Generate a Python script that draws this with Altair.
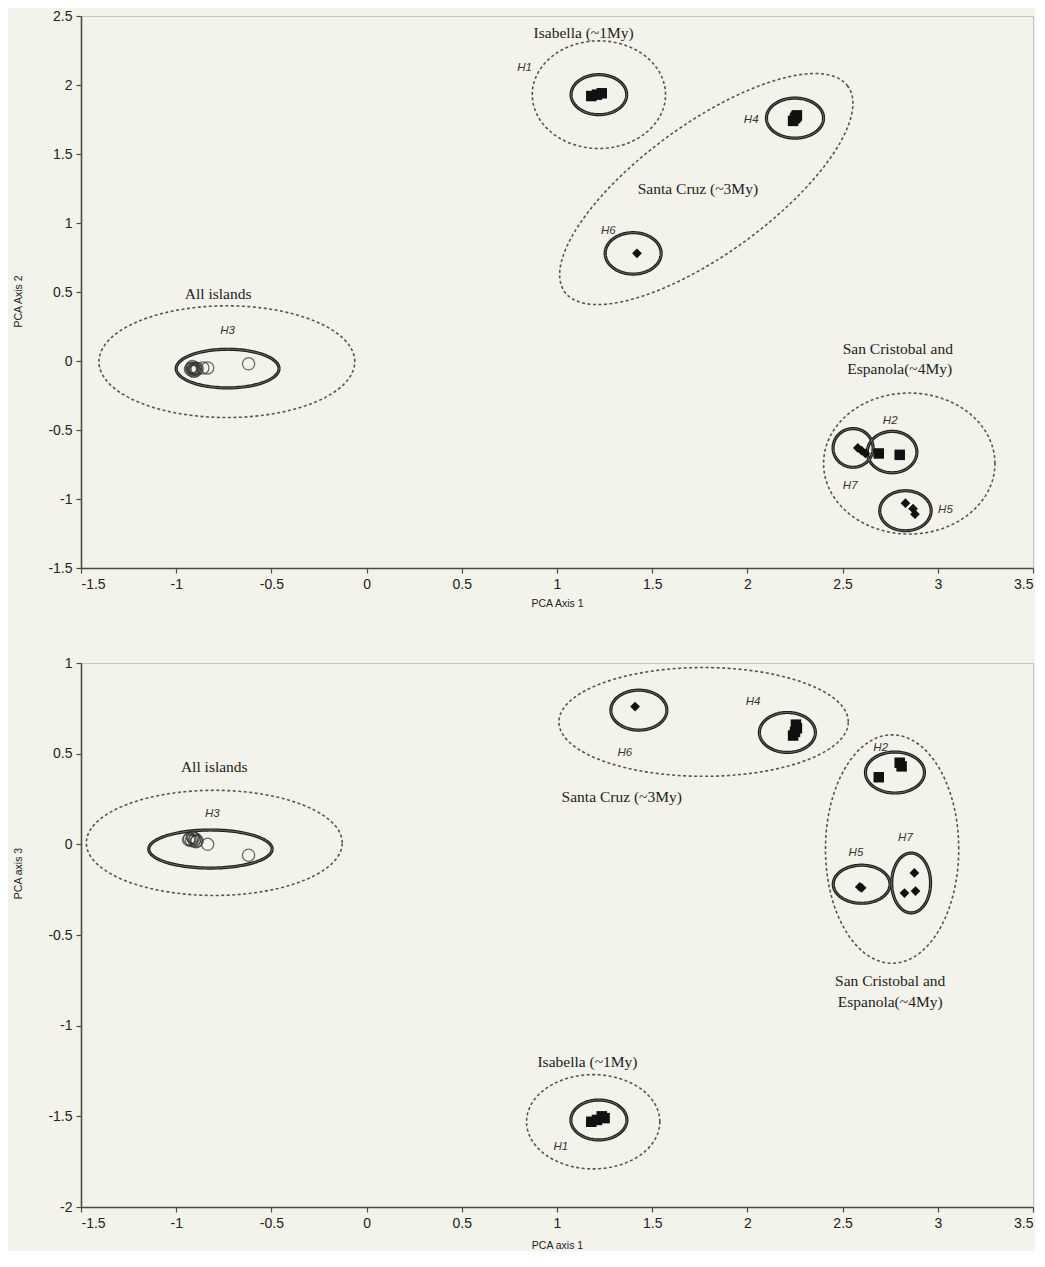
import altair as alt
import pandas as pd
import numpy as np

# ---------------- layout ----------------
W = 952
H_TOP = 552
H_BOT = 544
X_DOMAIN = [-1.5, 3.5]
Y_TOP_DOMAIN = [-1.5, 2.5]
Y_BOT_DOMAIN = [-2.0, 1.0]
X_TICKS = [-1.5, -1, -0.5, 0, 0.5, 1, 1.5, 2, 2.5, 3, 3.5]
Y_TOP_TICKS = [-1.5, -1, -0.5, 0, 0.5, 1, 1.5, 2, 2.5]
Y_BOT_TICKS = [-2, -1.5, -1, -0.5, 0, 0.5, 1]

# ---------------- top panel data (PCA1 vs PCA2) ----------------
top_sq_x = [1.18, 1.21, 1.235, 2.24, 2.25, 2.26, 2.255, 2.69, 2.80]
top_sq_y = [1.92, 1.93, 1.94, 1.74, 1.76, 1.78, 1.77, -0.67, -0.68]
top_dm_x = [1.42, 2.58, 2.60, 2.62, 2.83, 2.87, 2.88]
top_dm_y = [0.78, -0.63, -0.65, -0.67, -1.03, -1.07, -1.11]
top_ci_x = [-0.925, -0.92, -0.915, -0.91, -0.905, -0.90, -0.895, -0.89, -0.915, -0.905,
            -0.86, -0.835, -0.62]
top_ci_y = [-0.06, -0.05, -0.07, -0.055, -0.06, -0.05, -0.065, -0.055, -0.04, -0.075,
            -0.05, -0.05, -0.02]

# solid ellipses: cx, cy, rx, ry (data units)
top_solid = [
    (1.22, 1.93, 0.146, 0.145),    # H1
    (2.25, 1.76, 0.15, 0.145),     # H4
    (1.40, 0.78, 0.147, 0.15),     # H6
    (-0.73, -0.055, 0.27, 0.14),   # H3
    (2.76, -0.66, 0.13, 0.15),     # H2
    (2.555, -0.63, 0.105, 0.14),   # H7
    (2.83, -1.085, 0.135, 0.145),  # H5
]
top_dotted = [
    (1.22, 1.93, 0.35, 0.39),       # Isabella
    (-0.734, -0.005, 0.672, 0.405), # All islands
    (2.85, -0.743, 0.45, 0.511),    # San Cristobal / Espanola
]
# rotated dotted ellipse (Santa Cruz): cx, cy, semi-major px, semi-minor px, angle deg
top_rotated = [(1.784, 1.246, 175, 65, 36)]

top_text = ["Isabella (~1My)", "Santa Cruz (~3My)", "All islands",
            "San Cristobal and", "Espanola(~4My)"]
top_text_x = [1.14, 1.74, -0.78, 2.79, 2.80]
top_text_y = [2.38, 1.25, 0.485, 0.087, -0.06]
top_h = ["H1", "H4", "H6", "H3", "H2", "H7", "H5"]
top_h_x = [0.83, 2.02, 1.27, -0.73, 2.75, 2.54, 3.04]
top_h_y = [2.12, 1.75, 0.94, 0.22, -0.435, -0.906, -1.08]

# ---------------- bottom panel data (PCA1 vs PCA3) ----------------
bot_sq_x = [1.18, 1.21, 1.235, 1.25, 2.24, 2.25, 2.26, 2.255, 2.69, 2.80, 2.81]
bot_sq_y = [-1.53, -1.52, -1.50, -1.51, 0.60, 0.62, 0.64, 0.66, 0.37, 0.45, 0.43]
bot_dm_x = [1.41, 2.59, 2.60, 2.877, 2.825, 2.883]
bot_dm_y = [0.76, -0.235, -0.24, -0.158, -0.269, -0.258]
bot_ci_x = [-0.935, -0.93, -0.92, -0.915, -0.91, -0.905, -0.90, -0.895, -0.89, -0.835, -0.62]
bot_ci_y = [0.025, 0.03, 0.02, 0.04, 0.035, 0.02, 0.03, 0.015, 0.02, 0.0, -0.06]

bot_solid = [
    (-0.82, -0.026, 0.324, 0.105),  # H3
    (1.43, 0.74, 0.147, 0.11),      # H6
    (2.21, 0.617, 0.147, 0.11),     # H4
    (2.775, 0.396, 0.155, 0.113),   # H2
    (2.60, -0.22, 0.149, 0.105),    # H5
    (2.86, -0.213, 0.102, 0.165),   # H7
    (1.22, -1.52, 0.147, 0.11),     # H1
]
bot_dotted = [
    (-0.80, 0.008, 0.672, 0.29),   # All islands
    (1.77, 0.675, 0.76, 0.30),     # Santa Cruz
    (2.76, -0.026, 0.35, 0.63),    # San Cristobal / Espanola
    (1.19, -1.53, 0.35, 0.26),     # Isabella
]
bot_text = ["All islands", "Santa Cruz (~3My)", "San Cristobal and",
            "Espanola(~4My)", "Isabella (~1My)"]
bot_text_x = [-0.80, 1.34, 2.75, 2.75, 1.16]
bot_text_y = [0.426, 0.26, -0.754, -0.87, -1.20]
bot_h = ["H3", "H6", "H4", "H2", "H5", "H7", "H1"]
bot_h_x = [-0.81, 1.356, 2.03, 2.70, 2.57, 2.83, 1.02]
bot_h_y = [0.17, 0.504, 0.785, 0.53, -0.048, 0.035, -1.67]


def ellipse_df(specs, tag):
    t = np.linspace(0, 2 * np.pi, 145)
    rows = []
    for i, (cx, cy, rx, ry) in enumerate(specs):
        for k, tt in enumerate(t):
            rows.append({"id": f"{tag}{i}", "k": k,
                         "x": cx + rx * np.cos(tt), "y": cy + ry * np.sin(tt)})
    return pd.DataFrame(rows)


def rotated_df(specs, tag, sx, sy):
    t = np.linspace(0, 2 * np.pi, 181)
    rows = []
    for i, (cx, cy, a, b, ang) in enumerate(specs):
        th = np.deg2rad(ang)
        for k, tt in enumerate(t):
            dx = a * np.cos(th) * np.cos(tt) - b * np.sin(th) * np.sin(tt)
            dy = a * np.sin(th) * np.cos(tt) + b * np.cos(th) * np.sin(tt)
            rows.append({"id": f"{tag}{i}", "k": k,
                         "x": cx + dx / sx, "y": cy + dy / sy})
    return pd.DataFrame(rows)


def panel(h, ydom, yticks, xtitle, ytitle, ytitle_y, sq, dm, ci,
          solid, dotted, rotated, texts, hs, xtitle_pad):
    xenc = alt.X("x:Q", scale=alt.Scale(domain=X_DOMAIN, nice=False, zero=False),
                 axis=alt.Axis(values=X_TICKS, title=xtitle, labelExpr="datum.value + ''",
                               titlePadding=xtitle_pad))
    yenc = alt.Y("y:Q", scale=alt.Scale(domain=ydom, nice=False, zero=False),
                 axis=alt.Axis(values=yticks, title=ytitle, labelExpr="datum.value + ''",
                               titleX=-58, titleY=ytitle_y, titleAngle=270,
                               titleBaseline="bottom", titleAlign="center"))
    layers = []
    sdf = ellipse_df(solid, "s")
    layers.append(alt.Chart(sdf).mark_line(color="#1e1e1e", strokeWidth=3.2).encode(
        x=xenc, y=yenc, order="k:Q", detail="id:N"))
    layers.append(alt.Chart(sdf).mark_line(color="#8c8c86", strokeWidth=0.7).encode(
        x=xenc, y=yenc, order="k:Q", detail="id:N"))
    ddf = ellipse_df(dotted, "d")
    if rotated:
        ddf = pd.concat([ddf, rotated_df(rotated, "r", W / 5, h / (ydom[1] - ydom[0]))])
    layers.append(alt.Chart(ddf).mark_line(color="#555555", strokeWidth=1.6,
                                           strokeDash=[3, 2.5]).encode(
        x=xenc, y=yenc, order="k:Q", detail="id:N"))
    cdf = pd.DataFrame({"x": ci[0], "y": ci[1]})
    layers.append(alt.Chart(cdf).mark_point(shape="circle", filled=False, size=150,
                                            color="#333333", strokeWidth=1.3).encode(x=xenc, y=yenc))
    qdf = pd.DataFrame({"x": sq[0], "y": sq[1]})
    layers.append(alt.Chart(qdf).mark_point(shape="square", filled=True, size=110,
                                            color="#111111", opacity=1).encode(x=xenc, y=yenc))
    mdf = pd.DataFrame({"x": dm[0], "y": dm[1]})
    layers.append(alt.Chart(mdf).mark_point(shape="diamond", filled=True, size=95,
                                            color="#111111", opacity=1).encode(x=xenc, y=yenc))
    tdf = pd.DataFrame({"x": texts[1], "y": texts[2], "t": texts[0]})
    layers.append(alt.Chart(tdf).mark_text(font="Liberation Serif", fontSize=15.5,
                                           color="#222222").encode(x=xenc, y=yenc, text="t:N"))
    hdf = pd.DataFrame({"x": hs[1], "y": hs[2], "t": hs[0]})
    layers.append(alt.Chart(hdf).mark_text(font="Liberation Sans", fontSize=11.5,
                                           fontStyle="italic", color="#333333").encode(
        x=xenc, y=yenc, text="t:N"))
    return alt.layer(*layers).properties(width=W, height=h)


top = panel(H_TOP, Y_TOP_DOMAIN, Y_TOP_TICKS, "PCA Axis 1", "PCA Axis 2", H_TOP / 2 + 9,
            (top_sq_x, top_sq_y), (top_dm_x, top_dm_y), (top_ci_x, top_ci_y),
            top_solid, top_dotted, top_rotated,
            (top_text, top_text_x, top_text_y), (top_h, top_h_x, top_h_y), 7)
bottom = panel(H_BOT, Y_BOT_DOMAIN, Y_BOT_TICKS, "PCA axis 1", "PCA axis 3", 210,
               (bot_sq_x, bot_sq_y), (bot_dm_x, bot_dm_y), (bot_ci_x, bot_ci_y),
               bot_solid, bot_dotted, [],
               (bot_text, bot_text_x, bot_text_y), (bot_h, bot_h_x, bot_h_y), 10)

chart = alt.vconcat(top, bottom, spacing=46).properties(
    padding={"left": 4, "top": 0, "right": 0, "bottom": 0},
    background="#f3f3eb",
).configure_view(
    stroke="#c4c4bc", strokeWidth=1
).configure_axis(
    grid=False, domainColor="#4a4a4a", domainWidth=1.6, tickColor="#4a4a4a",
    tickSize=5, tickWidth=1.2, labelFont="Liberation Sans", labelFontSize=14,
    labelColor="#222222", labelPadding=4, titleFont="Liberation Sans",
    titleFontSize=10.5, titleFontWeight="normal", titleColor="#222222"
)

chart.save("out.html", embed_options={"renderer": "svg", "actions": False})
